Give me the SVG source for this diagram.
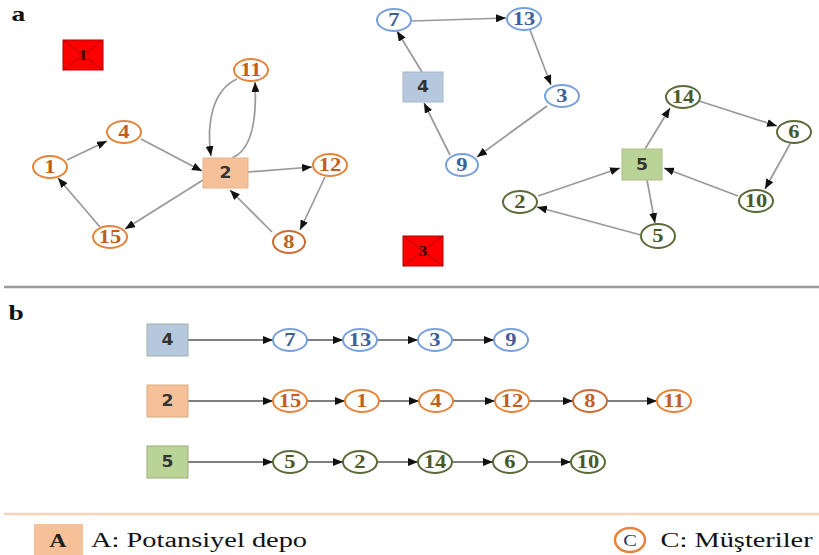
<svg xmlns="http://www.w3.org/2000/svg" width="819" height="555" viewBox="0 0 819 555">
  <defs>
    <marker id="ah" viewBox="0 0 10 8" refX="10" refY="4" markerUnits="userSpaceOnUse" markerWidth="10" markerHeight="8" orient="auto">
      <path d="M0,0 L10,4 L0,8 z" fill="#111"/>
    </marker>
    <style>
      text { text-anchor: middle; dominant-baseline: central; transform-box: fill-box; transform-origin: center; }
      .num { font-family: "Liberation Serif", "DejaVu Serif", serif; font-weight: bold; font-size: 18px; transform: scaleX(1.25); }
      .dep { font-family: "DejaVu Sans", "Liberation Sans", sans-serif; font-weight: bold; font-size: 15px; fill: #333; transform: scaleX(1.15); }
      .sec { font-family: "Liberation Serif", serif; font-weight: bold; font-size: 22px; fill: #111; text-anchor: start; dominant-baseline: auto; transform: scaleX(1.25); }
      .leg { font-family: "Liberation Serif", serif; font-size: 20px; fill: #111; text-anchor: start; dominant-baseline: auto; transform: scaleX(1.42); }
      .o ellipse { fill: #fff; stroke: #e5843a; stroke-width: 2; }
      .o text { fill: #c35d1c; }
      .b ellipse { fill: #fff; stroke: #78a0dc; stroke-width: 2; }
      .b text { fill: #3d5f9c; }
      .g ellipse { fill: #fff; stroke: #5b6a38; stroke-width: 2; }
      .g text { fill: #4a5829; }
      .dpo { fill: #f6c198; stroke: #eab48a; stroke-width: 1; }
      .dpb { fill: #b6c8de; stroke: #a7b8cc; stroke-width: 1; }
      .dpg { fill: #bad396; stroke: #a9c086; stroke-width: 1; }
      .closed rect { fill: #f00; stroke: #b00000; stroke-width: 1; }
      .closed line { stroke: #a00000; stroke-width: 0.8; }
      .closed text { font-family: "Liberation Serif", serif; font-weight: bold; font-size: 14px; fill: #300; transform: scaleX(1.2); }
      #edges-a path, #edges-a line { fill: none; stroke: #999; stroke-width: 1.7; marker-end: url(#ah); }
      #edges-b line { stroke: #555; stroke-width: 1.5; marker-end: url(#ah); }
    </style>
  </defs>

  <rect width="819" height="555" fill="#fff"/>

  <!-- section labels and separators -->
  <text class="sec" x="13" y="21">a</text>
  <text class="sec" x="10" y="320">b</text>
  <line x1="4" y1="287" x2="819" y2="287" stroke="#9c9c9c" stroke-width="2.5"/>
  <line x1="4" y1="514" x2="819" y2="514" stroke="#f6d4ba" stroke-width="2.5"/>

  <!-- connectors, part a -->
  <g id="edges-a">
    <!-- orange tour from depot 2 -->
    <line x1="67" y1="160" x2="107" y2="141"/>
    <line x1="141" y1="139" x2="202" y2="171"/>
    <path d="M232,158 C252,150 257,120 255,82"/>
    <path d="M237,79 C213,90 206,122 211,156"/>
    <line x1="248" y1="172" x2="312" y2="167"/>
    <line x1="325" y1="177" x2="300" y2="230"/>
    <line x1="272" y1="232" x2="230" y2="190"/>
    <line x1="203" y1="180" x2="125" y2="229"/>
    <line x1="100" y1="227" x2="58" y2="178"/>
    <!-- blue tour from depot 4 -->
    <line x1="422" y1="72" x2="397" y2="31"/>
    <line x1="412" y1="21" x2="506" y2="18"/>
    <line x1="530" y1="30" x2="551" y2="85"/>
    <line x1="547" y1="106" x2="477" y2="157"/>
    <line x1="450" y1="155" x2="424" y2="103"/>
    <!-- green tour from depot 5 -->
    <line x1="645" y1="149" x2="670" y2="108"/>
    <line x1="699" y1="101" x2="777" y2="126"/>
    <line x1="790" y1="144" x2="765" y2="189"/>
    <line x1="738" y1="196" x2="664" y2="168"/>
    <line x1="647" y1="180" x2="655" y2="223"/>
    <line x1="641" y1="235" x2="537" y2="207"/>
    <line x1="538" y1="196" x2="620" y2="168"/>
  </g>

  <!-- nodes, part a -->
  <g id="a-closed-1" class="closed">
    <rect x="63" y="40" width="40" height="30"/>
    <line x1="63" y1="40" x2="103" y2="70"/><line x1="103" y1="40" x2="63" y2="70"/>
    <text x="83" y="55">1</text>
  </g>
  <g id="a-closed-3" class="closed">
    <rect x="403" y="236" width="40" height="30"/>
    <line x1="403" y1="236" x2="443" y2="266"/><line x1="443" y1="236" x2="403" y2="266"/>
    <text x="423" y="251">3</text>
  </g>

  <g id="a-depot-2"><rect class="dpo" x="203" y="158" width="45" height="30"/><text class="dep" x="225.5" y="173">2</text></g>
  <g id="a-o11" class="o"><ellipse cx="251" cy="70" rx="17" ry="11"/><text class="num" x="251" y="70">11</text></g>
  <g id="a-o4" class="o"><ellipse cx="124" cy="132" rx="17" ry="11"/><text class="num" x="124" y="132">4</text></g>
  <g id="a-o1" class="o"><ellipse cx="50" cy="167" rx="17" ry="11"/><text class="num" x="50" y="167">1</text></g>
  <g id="a-o12" class="o"><ellipse cx="330" cy="165" rx="17" ry="11"/><text class="num" x="330" y="165">12</text></g>
  <g id="a-o15" class="o"><ellipse cx="110" cy="237" rx="17" ry="11"/><text class="num" x="110" y="237">15</text></g>
  <g id="a-o8" class="o"><ellipse cx="289" cy="242" rx="16" ry="11" style="stroke:#cc6a30"/><text class="num" x="289" y="242">8</text></g>

  <g id="a-depot-4"><rect class="dpb" x="403" y="72" width="40" height="30"/><text class="dep" x="423" y="87">4</text></g>
  <g id="a-b7" class="b"><ellipse cx="394" cy="20" rx="17" ry="11"/><text class="num" x="394" y="20">7</text></g>
  <g id="a-b13" class="b"><ellipse cx="524" cy="19" rx="17" ry="11"/><text class="num" x="524" y="19">13</text></g>
  <g id="a-b3" class="b"><ellipse cx="562" cy="96" rx="17" ry="11"/><text class="num" x="562" y="96">3</text></g>
  <g id="a-b9" class="b"><ellipse cx="462" cy="165" rx="16" ry="11"/><text class="num" x="462" y="165">9</text></g>

  <g id="a-depot-5"><rect class="dpg" x="622" y="149" width="40" height="31"/><text class="dep" x="642" y="164.5">5</text></g>
  <g id="a-g2" class="g"><ellipse cx="520" cy="202" rx="17" ry="11"/><text class="num" x="520" y="202">2</text></g>
  <g id="a-g5" class="g"><ellipse cx="658" cy="236" rx="17" ry="12"/><text class="num" x="658" y="236">5</text></g>
  <g id="a-g14" class="g"><ellipse cx="683" cy="97" rx="17" ry="11"/><text class="num" x="683" y="97">14</text></g>
  <g id="a-g6" class="g"><ellipse cx="794" cy="132" rx="17" ry="11"/><text class="num" x="794" y="132">6</text></g>
  <g id="a-g10" class="g"><ellipse cx="756" cy="201" rx="17" ry="11"/><text class="num" x="756" y="201">10</text></g>

  <!-- connectors, part b -->
  <g id="edges-b">
    <line x1="188" y1="340" x2="273" y2="340"/>
    <line x1="307" y1="340" x2="343" y2="340"/>
    <line x1="377" y1="340" x2="418" y2="340"/>
    <line x1="452" y1="340" x2="494" y2="340"/>

    <line x1="188" y1="401" x2="273" y2="401"/>
    <line x1="307" y1="401" x2="345" y2="401"/>
    <line x1="379" y1="401" x2="419" y2="401"/>
    <line x1="453" y1="401" x2="495" y2="401"/>
    <line x1="529" y1="401" x2="573" y2="401"/>
    <line x1="607" y1="401" x2="657" y2="401"/>

    <line x1="188" y1="462" x2="273" y2="462"/>
    <line x1="307" y1="462" x2="343" y2="462"/>
    <line x1="377" y1="462" x2="418" y2="462"/>
    <line x1="452" y1="462" x2="493" y2="462"/>
    <line x1="527" y1="462" x2="571" y2="462"/>
  </g>

  <!-- nodes, part b -->
  <g id="b-depot-4"><rect class="dpb" x="147" y="324" width="41" height="32" style="stroke:#9fb0a4"/><text class="dep" x="167.5" y="340">4</text></g>
  <g id="b-b7" class="b"><ellipse cx="290" cy="340" rx="17" ry="11"/><text class="num" x="290" y="340">7</text></g>
  <g id="b-b13" class="b"><ellipse cx="360" cy="340" rx="17" ry="11"/><text class="num" x="360" y="340">13</text></g>
  <g id="b-b3" class="b"><ellipse cx="435" cy="340" rx="17" ry="11"/><text class="num" x="435" y="340">3</text></g>
  <g id="b-b9" class="b"><ellipse cx="511" cy="340" rx="17" ry="11"/><text class="num" x="511" y="340">9</text></g>

  <g id="b-depot-2"><rect class="dpo" x="147" y="385" width="41" height="32" style="stroke:#d9aa80"/><text class="dep" x="167.5" y="401">2</text></g>
  <g id="b-o15" class="o"><ellipse cx="290" cy="401" rx="17" ry="11"/><text class="num" x="290" y="401">15</text></g>
  <g id="b-o1" class="o"><ellipse cx="362" cy="401" rx="17" ry="11"/><text class="num" x="362" y="401">1</text></g>
  <g id="b-o4" class="o"><ellipse cx="436" cy="401" rx="17" ry="11"/><text class="num" x="436" y="401">4</text></g>
  <g id="b-o12" class="o"><ellipse cx="512" cy="401" rx="17" ry="11"/><text class="num" x="512" y="401">12</text></g>
  <g id="b-o8" class="o"><ellipse cx="590" cy="401" rx="17" ry="11" style="stroke:#cc6a30"/><text class="num" x="590" y="401">8</text></g>
  <g id="b-o11" class="o"><ellipse cx="674" cy="401" rx="17" ry="11"/><text class="num" x="674" y="401">11</text></g>

  <g id="b-depot-5"><rect class="dpg" x="147" y="446" width="41" height="32" style="stroke:#98ad7a"/><text class="dep" x="167.5" y="462">5</text></g>
  <g id="b-g5" class="g"><ellipse cx="290" cy="462" rx="17" ry="11"/><text class="num" x="290" y="462">5</text></g>
  <g id="b-g2" class="g"><ellipse cx="360" cy="462" rx="17" ry="11"/><text class="num" x="360" y="462">2</text></g>
  <g id="b-g14" class="g"><ellipse cx="435" cy="462" rx="17" ry="11"/><text class="num" x="435" y="462">14</text></g>
  <g id="b-g6" class="g"><ellipse cx="510" cy="462" rx="17" ry="11"/><text class="num" x="510" y="462">6</text></g>
  <g id="b-g10" class="g"><ellipse cx="588" cy="462" rx="17" ry="11"/><text class="num" x="588" y="462">10</text></g>

  <!-- legend -->
  <g id="legend-depot">
    <rect x="34" y="524" width="49" height="31" fill="#f6c198"/>
    <text x="58" y="547" style="font-family:'Liberation Serif',serif;font-size:18px;font-weight:bold;fill:#222;dominant-baseline:auto;transform:scaleX(1.3)">A</text>
    <text class="leg" x="123" y="547">A: Potansiyel depo</text>
  </g>
  <g id="legend-customer">
    <ellipse cx="630" cy="540" rx="15" ry="12" fill="#fff" stroke="#e5843a" stroke-width="2.5"/>
    <text x="630" y="546" style="font-family:'Liberation Serif',serif;font-size:17px;fill:#2b3a66;dominant-baseline:auto;transform:scaleX(1.2)">C</text>
    <text class="leg" x="683" y="547">C: Müşteriler</text>
  </g>
</svg>
